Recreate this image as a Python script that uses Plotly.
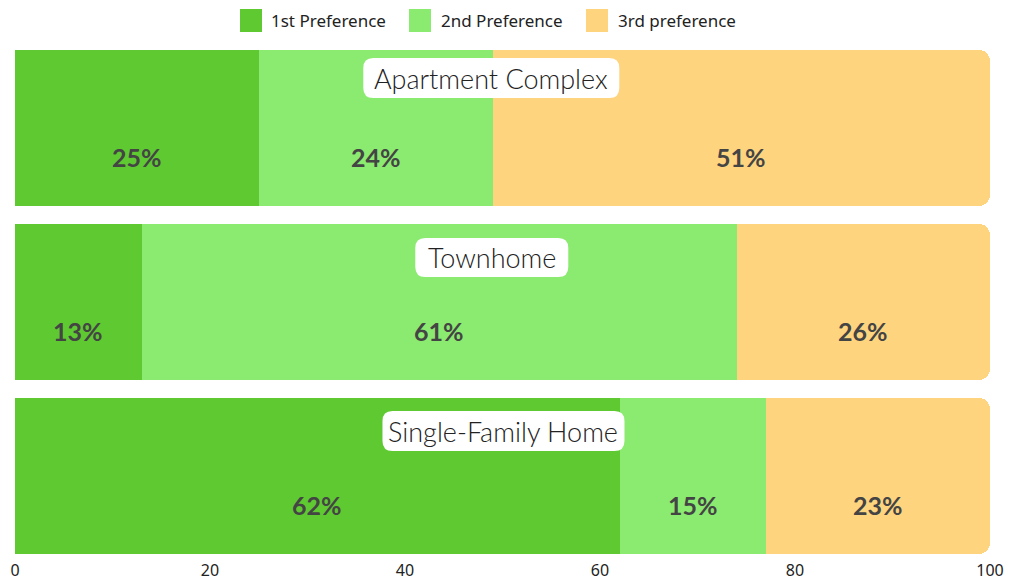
import plotly.graph_objects as go

# Housing preference shares (%) by home type
categories = ["Apartment Complex", "Townhome", "Single-Family Home"]
series_names = ["1st Preference", "2nd Preference", "3rd preference"]
first_pref = [25, 13, 62]
second_pref = [24, 61, 15]
third_pref = [51, 26, 23]
x_ticks = [0, 20, 40, 60, 80, 100]

colors = ["#5FC932", "#8BEA70", "#FFD47F"]
series_values = [first_pref, second_pref, third_pref]

W, H = 1017, 582
M = dict(l=15, r=27, t=41, b=19)


def px_to_paper(px, py):
    """Convert page pixel coordinates to paper coordinates."""
    pw = W - M["l"] - M["r"]
    ph = H - M["t"] - M["b"]
    return (px - M["l"]) / pw, (H - M["b"] - py) / ph


fig = go.Figure()
for name, vals, col in zip(series_names, series_values, colors):
    fig.add_trace(go.Bar(
        y=categories, x=vals, name=name, orientation="h",
        marker=dict(color=col, line=dict(width=0)),
        hoverinfo="x+y+name", showlegend=False,
    ))

annotations = []
shapes = []

# Percentage labels centred in each segment, in the lower half of the bar
for i, cat in enumerate(categories):
    left = 0
    for vals in series_values:
        v = vals[i]
        annotations.append(dict(
            x=left + v / 2, y=cat, xref="x", yref="y",
            text=f"<b>{v}%</b>", showarrow=False, yshift=-29,
            font=dict(family="Lato, DejaVu Sans, sans-serif", size=25, color="#444444"),
        ))
        left += v


def rounded_rect(w, h, r, dy):
    x0, x1 = -w / 2, w / 2
    y0, y1 = dy - h / 2, dy + h / 2
    return (f"M{x0 + r},{y0} L{x1 - r},{y0} Q{x1},{y0} {x1},{y0 + r} "
            f"L{x1},{y1 - r} Q{x1},{y1} {x1 - r},{y1} L{x0 + r},{y1} "
            f"Q{x0},{y1} {x0},{y1 - r} L{x0},{y0 + r} Q{x0},{y0} {x0 + r},{y0} Z")


# Category name badges near the top of each bar
badge_x = [48.85, 48.9, 50.1]
badge_w = [256, 153, 242]
badge_h = [40, 39, 40]
badge_dy = [50, 44.5, 45]
for cat, bx, bw, bh, dy in zip(categories, badge_x, badge_w, badge_h, badge_dy):
    shapes.append(dict(
        type="path", xref="x", yref="y", xsizemode="pixel", ysizemode="pixel",
        xanchor=bx, yanchor=cat, path=rounded_rect(bw, bh, 10, dy),
        fillcolor="#FFFFFF", line=dict(width=0), layer="above",
    ))
    annotations.append(dict(
        x=bx, y=cat, xref="x", yref="y", text=cat, showarrow=False,
        yshift=dy, font=dict(family="Lato, DejaVu Sans, sans-serif", size=27,
                             color="#222222", weight=300),
    ))

# Legend: coloured squares with their series names along the top
legend_sq_x = [240, 409, 586]
legend_txt_x = [269, 439, 616]
for name, col, sx, tx in zip(series_names, colors, legend_sq_x, legend_txt_x):
    x0, y0 = px_to_paper(sx, 32)
    x1, y1 = px_to_paper(sx + 22, 9)
    shapes.append(dict(type="rect", xref="paper", yref="paper",
                       x0=x0, x1=x1, y0=y0, y1=y1,
                       fillcolor=col, line=dict(width=0)))
    ax_, ay_ = px_to_paper(tx, 20.5)
    annotations.append(dict(
        x=ax_, y=ay_, xref="paper", yref="paper", xanchor="left", yanchor="middle",
        text=name, showarrow=False,
        font=dict(family="Noto Sans, sans-serif", size=17, color="#222222"),
    ))

fig.update_layout(
    barmode="stack",
    bargap=0.1034,
    barcornerradius=11,
    width=W, height=H,
    margin=dict(M, autoexpand=False),
    paper_bgcolor="#FFFFFF", plot_bgcolor="#FFFFFF",
    showlegend=False,
    annotations=annotations,
    shapes=shapes,
    xaxis=dict(
        range=[0, 100], tickvals=x_ticks, showgrid=False, zeroline=False,
        showline=False, ticks="", automargin=False, ticklabelstandoff=-4,
        tickfont=dict(family="Noto Sans, sans-serif", size=16, color="#222222"),
    ),
    yaxis=dict(
        autorange="reversed", showticklabels=False, showgrid=False,
        zeroline=False, showline=False, ticks="", automargin=False,
    ),
)

fig.write_html("out.html")
